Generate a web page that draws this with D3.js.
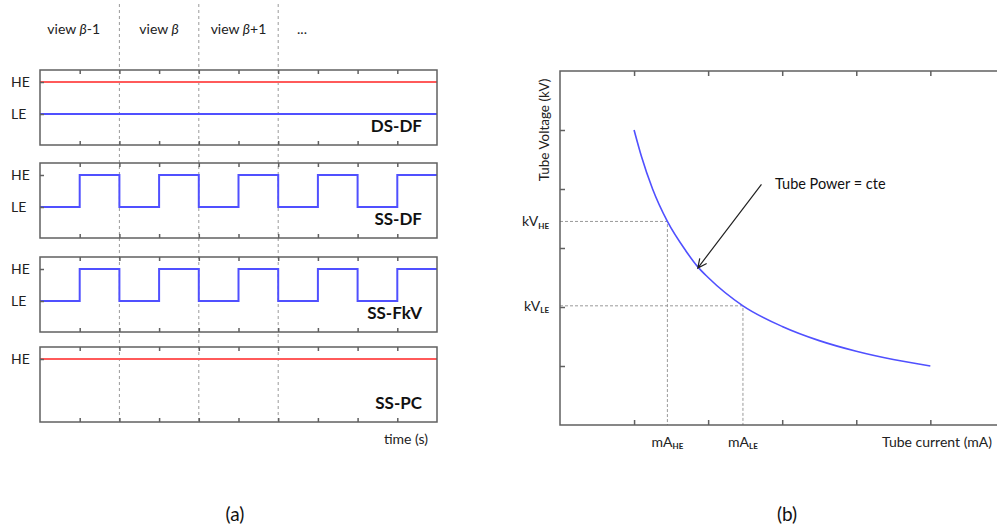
<!DOCTYPE html>
<html>
<head>
<meta charset="utf-8">
<script src="https://cdn.jsdelivr.net/npm/d3@7"></script>
<style>
  html, body { margin: 0; padding: 0; background: #fff; }
  svg { display: block; font-family: Lato, "Open Sans", sans-serif; }
</style>
</head>
<body>
<svg id="chart" width="997" height="530"></svg>
<script>
// ---------- data (panel a) ----------
const viewLabels = [
  {pre: "view ", beta: "β", post: "-1", t: 0.85},
  {pre: "view ", beta: "β", post: "", t: 3.0},
  {pre: "view ", beta: "β", post: "+1", t: 5.0},
  {pre: "...", beta: "", post: "", t: 6.6}
];
const viewBoundaries = [2, 4, 6];
const timeTicks = [1, 2, 3, 4, 5, 6, 7, 8, 9];
const timeDomain = [0, 10];
const modes = ["DS-DF", "SS-DF", "SS-FkV", "SS-PC"];
const levelNames = ["LE", "HE"];
// level per time segment (0 = LE, 1 = HE)
const dsdfHE = [1, 1, 1, 1, 1, 1, 1, 1, 1, 1];
const dsdfLE = [0, 0, 0, 0, 0, 0, 0, 0, 0, 0];
const ssdfLevels = [0, 1, 0, 1, 0, 1, 0, 1, 0, 1];
const ssfkvLevels = [0, 1, 0, 1, 0, 1, 0, 1, 0, 1];
const sspcHE = [1, 1, 1, 1, 1, 1, 1, 1, 1, 1];

// ---------- data (panel b) ----------
const currentTicks = [1, 2, 3, 4, 5];
const voltageTicks = [1, 2, 3, 4, 5];
const curveCurrent = [1.0, 1.1, 1.25, 1.45, 1.7, 1.86, 2.0, 2.47, 3.0, 3.5, 4.0, 4.5, 5.0];
const curveVoltage = [5.0, 4.55, 4.0, 3.45, 2.95, 2.68, 2.5, 2.02, 1.67, 1.43, 1.25, 1.11, 1.0];
const hePoint = {mA: 1.45, kV: 3.45};
const lePoint = {mA: 2.47, kV: 2.02};
const arrowFrom = {mA: 2.72, kV: 4.08};
const arrowTo = {mA: 1.86, kV: 2.66};

const svg = d3.select("#chart");
const RED = "#ff5a5a", BLUE = "#5050ff", FRAME = "#606060", DASH = "#9a9a9a";

// ======== Panel (a) ========
const xT = d3.scaleLinear().domain(timeDomain).range([40, 437]);
const panelTops = [70, 163, 257, 347];
const panelH = 75;

// dashed view boundaries (behind)
svg.append("g").selectAll("line").data(viewBoundaries).join("line")
  .attr("x1", d => xT(d)).attr("x2", d => xT(d))
  .attr("y1", 4).attr("y2", 424)
  .attr("stroke", DASH).attr("stroke-width", 1).attr("stroke-dasharray", "3,3");

// view labels
const vl = svg.append("g").selectAll("text").data(viewLabels).join("text")
  .attr("x", d => xT(d.t)).attr("y", 34)
  .attr("text-anchor", "middle").attr("font-size", 14).attr("fill", "#222");
vl.append("tspan").text(d => d.pre);
vl.append("tspan").attr("font-style", "italic").text(d => d.beta);
vl.append("tspan").text(d => d.post);

function stepPath(levels, y) {
  const pts = [];
  levels.forEach((l, i) => { pts.push([i, l]); pts.push([i + 1, l]); });
  return d3.line().x(d => xT(d[0])).y(d => y(d[1])).curve(d3.curveLinear)(pts);
}

const panelSeries = [
  [{levels: dsdfHE, color: RED}, {levels: dsdfLE, color: BLUE}],
  [{levels: ssdfLevels, color: BLUE}],
  [{levels: ssfkvLevels, color: BLUE}],
  [{levels: sspcHE, color: RED}]
];
const panelLevelLabels = [[0, 1], [0, 1], [0, 1], [1]];

modes.forEach((m, i) => {
  const top = panelTops[i];
  const y = d3.scaleLinear().domain([0, 1]).range([top + 44, top + 12]);
  const g = svg.append("g");

  panelSeries[i].forEach(s => {
    g.append("path").attr("d", stepPath(s.levels, y))
      .attr("fill", "none").attr("stroke", s.color).attr("stroke-width", 2);
  });

  g.append("rect").attr("x", xT(0)).attr("y", top)
    .attr("width", xT(10) - xT(0)).attr("height", panelH)
    .attr("fill", "none").attr("stroke", FRAME).attr("stroke-width", 1.5);

  const ab = g.append("g").attr("transform", `translate(0,${top + panelH})`)
    .call(d3.axisBottom(xT).tickValues(timeTicks).tickSizeInner(-4).tickSizeOuter(0).tickFormat(""));
  const at = g.append("g").attr("transform", `translate(0,${top})`)
    .call(d3.axisTop(xT).tickValues(timeTicks).tickSizeInner(-4).tickSizeOuter(0).tickFormat(""));
  const al = g.append("g").attr("transform", `translate(${xT(0)},0)`)
    .call(d3.axisLeft(y).tickValues(panelLevelLabels[i]).tickSizeInner(-4).tickSizeOuter(0).tickFormat(""));
  [ab, at, al].forEach(a => {
    a.select(".domain").remove();
    a.selectAll(".tick line").attr("stroke", FRAME).attr("stroke-width", 1.5);
  });

  g.selectAll("text.lvl").data(panelLevelLabels[i]).join("text")
    .attr("class", "lvl")
    .attr("x", 11).attr("y", d => y(d)).attr("dy", "0.35em")
    .attr("font-size", 14).attr("fill", "#222").text(d => levelNames[d]);

  g.append("text").attr("x", 422).attr("y", top + panelH - 13)
    .attr("text-anchor", "end").attr("font-size", 17).attr("font-weight", "bold")
    .attr("fill", "#111").text(m);
});

svg.append("text").attr("x", 428).attr("y", 444).attr("text-anchor", "end")
  .attr("font-size", 14).attr("fill", "#222").text("time (s)");

svg.append("text").attr("x", 235).attr("y", 521).attr("text-anchor", "middle")
  .attr("font-size", 19).attr("fill", "#111").text("(a)");

// ======== Panel (b) ========
const xI = d3.scaleLinear().domain([0, 5.9]).range([560, 997]);
const yV = d3.scaleLinear().domain([0, 6]).range([425, 71]);
const gb = svg.append("g");

[hePoint, lePoint].forEach(p => {
  gb.append("path")
    .attr("d", `M${xI(0)},${yV(p.kV)}H${xI(p.mA)}V${yV(0)}`)
    .attr("fill", "none").attr("stroke", DASH).attr("stroke-width", 1).attr("stroke-dasharray", "3,2");
});

const curvePts = curveCurrent.map((c, i) => [c, curveVoltage[i]]);
gb.append("path")
  .attr("d", d3.line().x(d => xI(d[0])).y(d => yV(d[1])).curve(d3.curveMonotoneX)(curvePts))
  .attr("fill", "none").attr("stroke", BLUE).attr("stroke-width", 1.6);

gb.append("path")
  .attr("d", `M${xI(5.95)},${yV(6)}H${xI(0)}V${yV(0)}H${xI(5.95)}`)
  .attr("fill", "none").attr("stroke", FRAME).attr("stroke-width", 1.5);

const bx = gb.append("g").attr("transform", `translate(0,${yV(0)})`)
  .call(d3.axisBottom(xI).tickValues(currentTicks).tickSizeInner(-5).tickSizeOuter(0).tickFormat(""));
const tx = gb.append("g").attr("transform", `translate(0,${yV(6)})`)
  .call(d3.axisTop(xI).tickValues(currentTicks).tickSizeInner(-5).tickSizeOuter(0).tickFormat(""));
const ly = gb.append("g").attr("transform", `translate(${xI(0)},0)`)
  .call(d3.axisLeft(yV).tickValues(voltageTicks).tickSizeInner(-5).tickSizeOuter(0).tickFormat(""));
[bx, tx, ly].forEach(a => {
  a.select(".domain").remove();
  a.selectAll(".tick line").attr("stroke", FRAME).attr("stroke-width", 1.5);
});

[[hePoint, "HE"], [lePoint, "LE"]].forEach(([p, s]) => {
  const t = gb.append("text").attr("x", 549).attr("y", yV(p.kV)).attr("dy", "0.35em")
    .attr("text-anchor", "end").attr("font-size", 14).attr("fill", "#222");
  t.append("tspan").text("kV");
  t.append("tspan").attr("font-size", 8).attr("font-weight", "bold").attr("dy", "0.3em").text(s);
  const u = gb.append("text").attr("x", xI(p.mA)).attr("y", 447)
    .attr("text-anchor", "middle").attr("font-size", 14).attr("fill", "#222");
  u.append("tspan").text("mA");
  u.append("tspan").attr("font-size", 8).attr("font-weight", "bold").attr("dy", "0.3em").text(s);
});

gb.append("text").attr("x", 992).attr("y", 447).attr("text-anchor", "end")
  .attr("font-size", 14).attr("fill", "#222").text("Tube current (mA)");

gb.append("text").attr("transform", `translate(549,130) rotate(-90)`)
  .attr("text-anchor", "middle").attr("font-size", 13.5).attr("fill", "#222")
  .text("Tube Voltage (kV)");

const x1 = xI(arrowFrom.mA), y1 = yV(arrowFrom.kV), x2 = xI(arrowTo.mA), y2 = yV(arrowTo.kV);
const ang = Math.atan2(y2 - y1, x2 - x1);
const hl = 10, ha = 0.45;
gb.append("path")
  .attr("d", `M${x1},${y1}L${x2},${y2}` +
    `M${x2 - hl * Math.cos(ang - ha)},${y2 - hl * Math.sin(ang - ha)}L${x2},${y2}` +
    `L${x2 - hl * Math.cos(ang + ha)},${y2 - hl * Math.sin(ang + ha)}`)
  .attr("fill", "none").attr("stroke", "#222").attr("stroke-width", 1.2);

gb.append("text").attr("x", 775).attr("y", 189).attr("font-size", 14.5).attr("fill", "#111")
  .text("Tube Power = cte");

svg.append("text").attr("x", 787).attr("y", 521).attr("text-anchor", "middle")
  .attr("font-size", 19).attr("fill", "#111").text("(b)");
</script>
</body>
</html>
